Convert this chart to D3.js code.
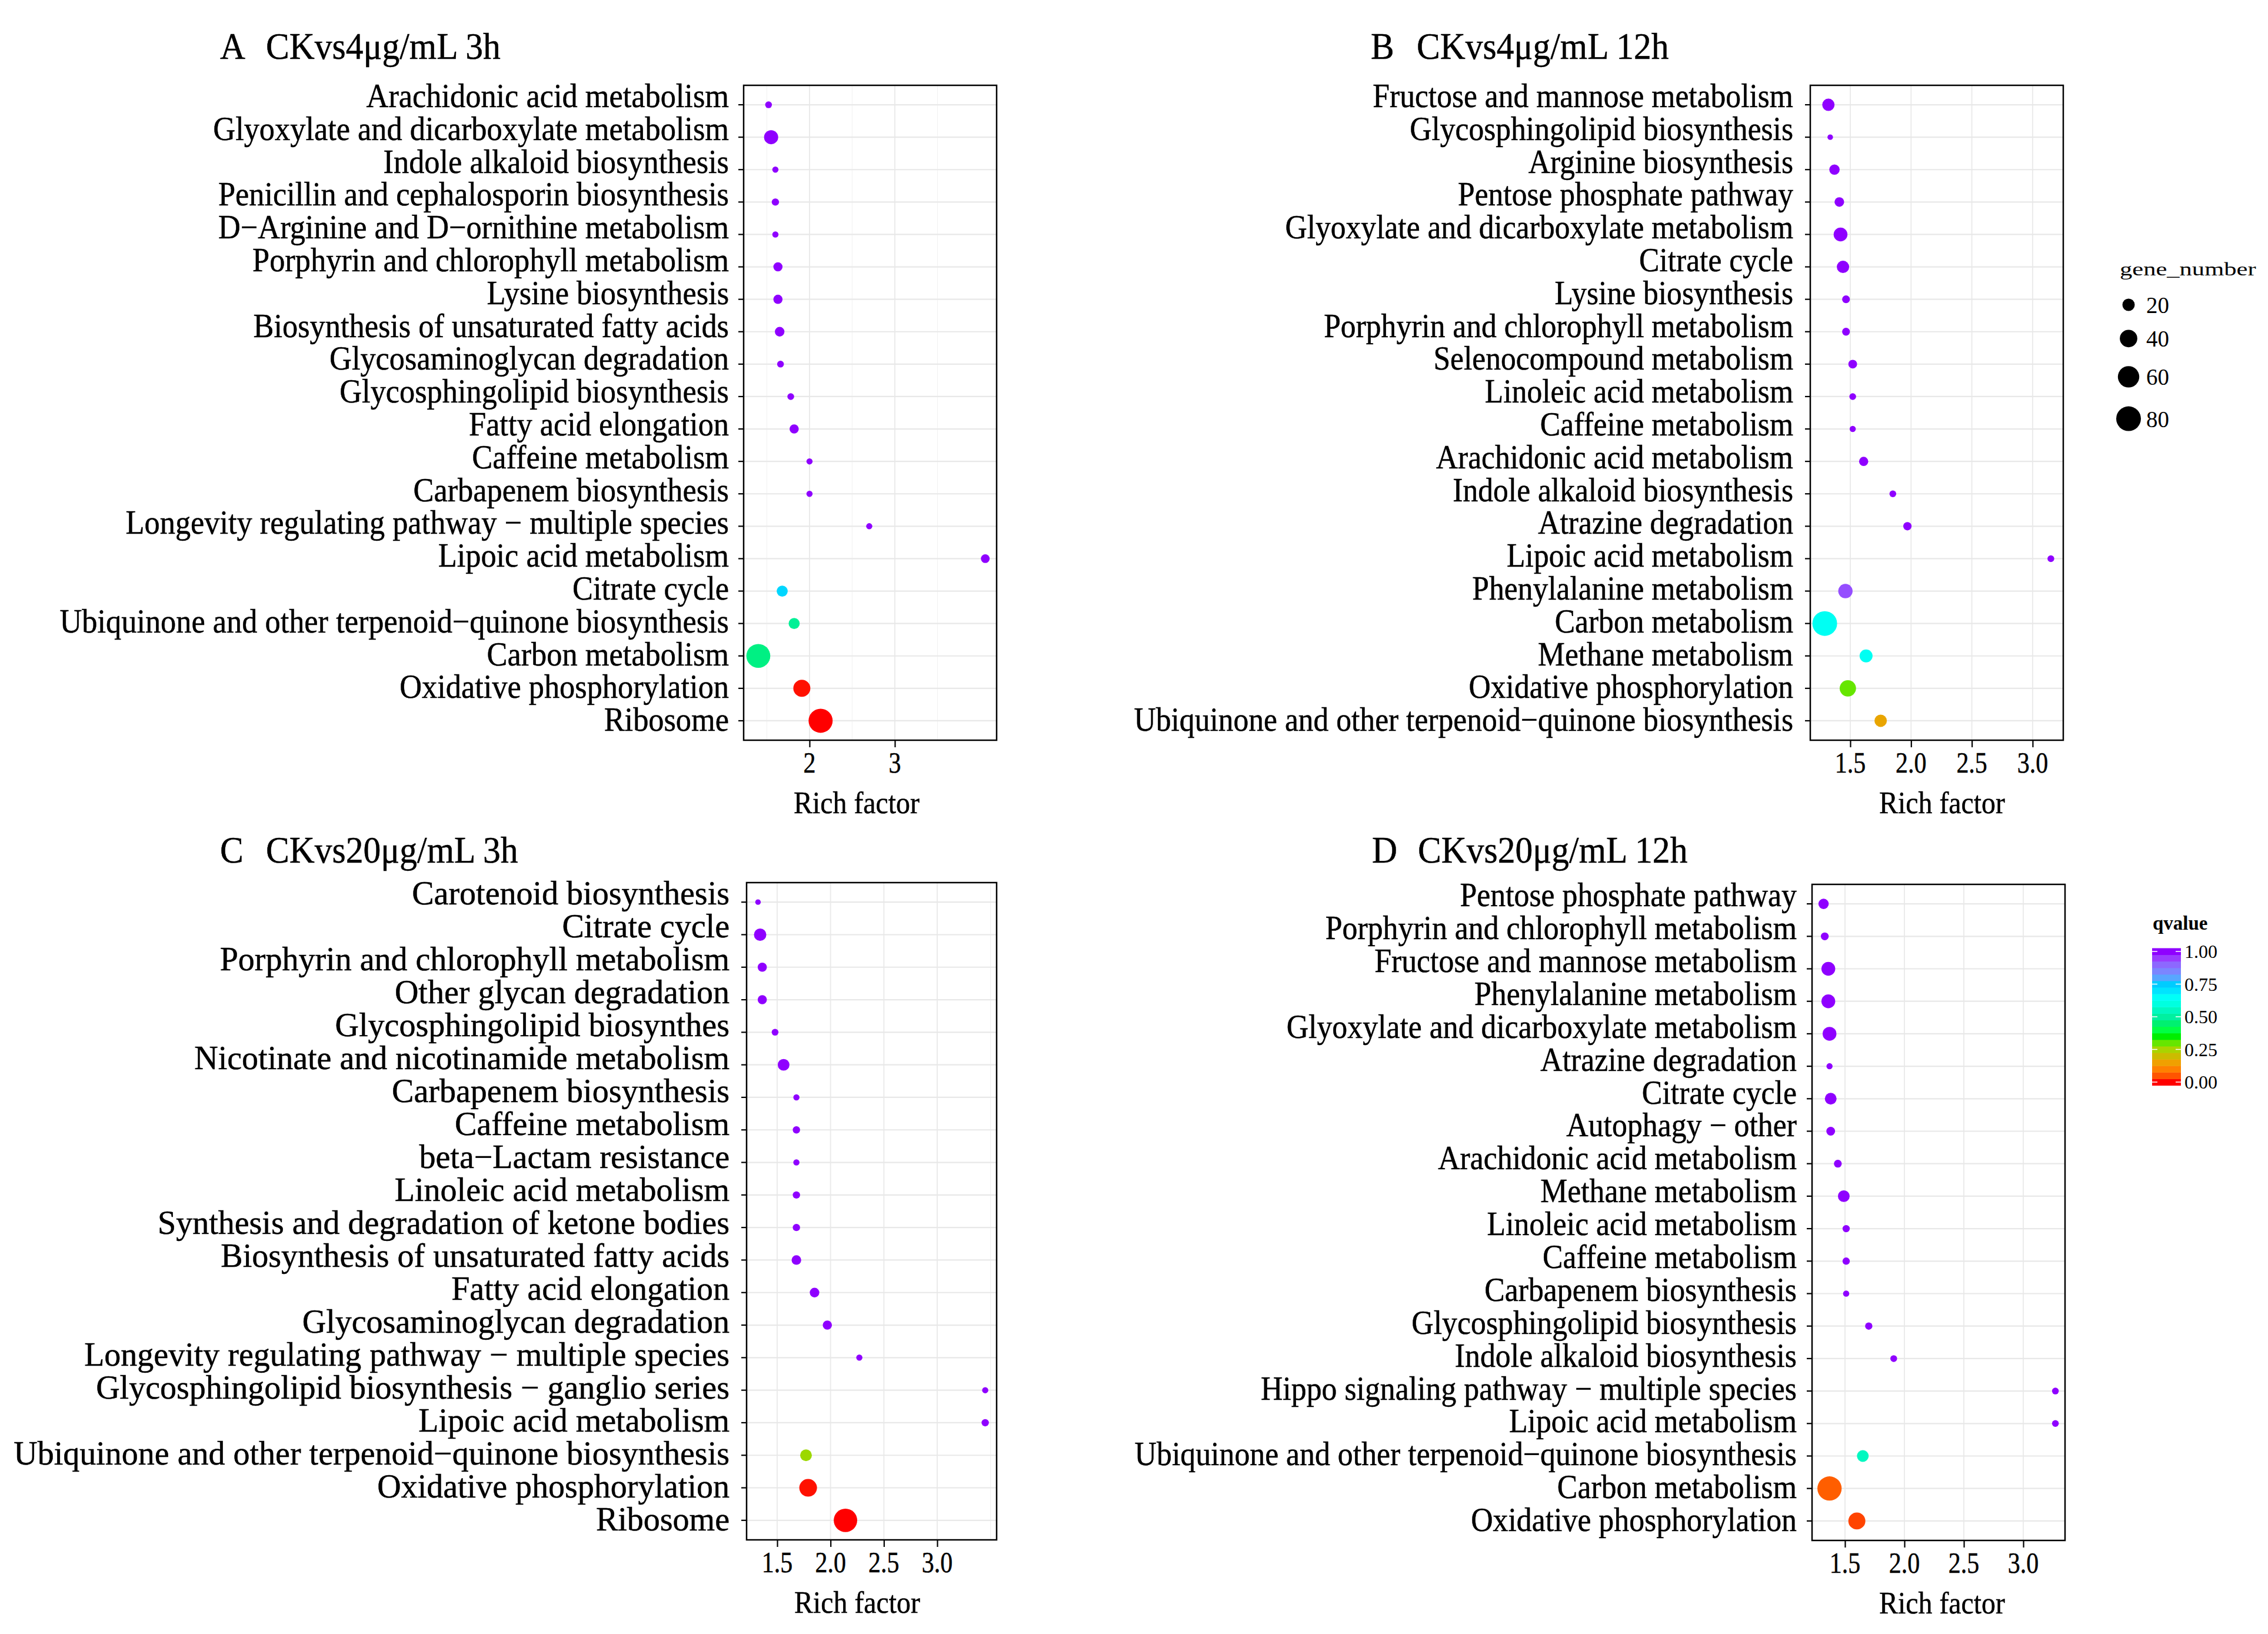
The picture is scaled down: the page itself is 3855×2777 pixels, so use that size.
<!DOCTYPE html>
<html>
<head>
<meta charset="utf-8">
<script src="https://cdn.jsdelivr.net/npm/d3@7"></script>
<style>
  body { margin: 0; background: #fff; }
  text { font-family: "Liberation Serif", "Times New Roman", serif; fill: #000; }
</style>
</head>
<body>
<svg id="chart" width="3855" height="2777"></svg>
<script>
// --- data (top row of each panel first) ---

// A  CKvs4μg/mL 3h
const pathwaysA = ["Arachidonic acid metabolism", "Glyoxylate and dicarboxylate metabolism", "Indole alkaloid biosynthesis",
  "Penicillin and cephalosporin biosynthesis", "D−Arginine and D−ornithine metabolism", "Porphyrin and chlorophyll metabolism",
  "Lysine biosynthesis", "Biosynthesis of unsaturated fatty acids", "Glycosaminoglycan degradation", "Glycosphingolipid biosynthesis",
  "Fatty acid elongation", "Caffeine metabolism", "Carbapenem biosynthesis", "Longevity regulating pathway − multiple species",
  "Lipoic acid metabolism", "Citrate cycle", "Ubiquinone and other terpenoid−quinone biosynthesis", "Carbon metabolism",
  "Oxidative phosphorylation", "Ribosome"];
const richA = [1.52, 1.55, 1.60, 1.60, 1.60, 1.63, 1.63, 1.65, 1.66, 1.78, 1.82, 2.00, 2.00, 2.70, 4.06, 1.68, 1.82, 1.40, 1.91, 2.13];
const genesA = [6, 26, 5, 7, 5, 11, 11, 12, 6, 6, 11, 5, 5, 5, 10, 16, 16, 75, 38, 76];
const qvalueA = [1, 1, 1, 1, 1, 1, 1, 1, 1, 1, 1, 1, 1, 1, 1, 0.73, 0.49, 0.47, 0.01, 0];

// B  CKvs4μg/mL 12h
const pathwaysB = ["Fructose and mannose metabolism", "Glycosphingolipid biosynthesis", "Arginine biosynthesis",
  "Pentose phosphate pathway", "Glyoxylate and dicarboxylate metabolism", "Citrate cycle", "Lysine biosynthesis",
  "Porphyrin and chlorophyll metabolism", "Selenocompound metabolism", "Linoleic acid metabolism", "Caffeine metabolism",
  "Arachidonic acid metabolism", "Indole alkaloid biosynthesis", "Atrazine degradation", "Lipoic acid metabolism",
  "Phenylalanine metabolism", "Carbon metabolism", "Methane metabolism", "Oxidative phosphorylation",
  "Ubiquinone and other terpenoid−quinone biosynthesis"];
const richB = [1.32, 1.335, 1.37, 1.41, 1.42, 1.44, 1.465, 1.465, 1.52, 1.52, 1.52, 1.61, 1.85, 1.97, 3.15, 1.46, 1.29, 1.63, 1.48, 1.75];
const genesB = [20, 4, 14, 12, 25, 20, 8, 8, 10, 6, 5, 11, 6, 9, 6, 27, 80, 22, 35, 20];
const qvalueB = [1, 1, 1, 1, 1, 1, 1, 1, 1, 1, 1, 1, 1, 1, 1, 0.93, 0.64, 0.64, 0.3, 0.16];

// C  CKvs20μg/mL 3h
const pathwaysC = ["Carotenoid biosynthesis", "Citrate cycle", "Porphyrin and chlorophyll metabolism", "Other glycan degradation",
  "Glycosphingolipid biosynthes", "Nicotinate and nicotinamide metabolism", "Carbapenem biosynthesis", "Caffeine metabolism",
  "beta−Lactam resistance", "Linoleic acid metabolism", "Synthesis and degradation of ketone bodies",
  "Biosynthesis of unsaturated fatty acids", "Fatty acid elongation", "Glycosaminoglycan degradation",
  "Longevity regulating pathway − multiple species", "Glycosphingolipid biosynthesis − ganglio series", "Lipoic acid metabolism",
  "Ubiquinone and other terpenoid−quinone biosynthesis", "Oxidative phosphorylation", "Ribosome"];
const richC = [1.32, 1.34, 1.36, 1.36, 1.48, 1.56, 1.68, 1.68, 1.68, 1.68, 1.68, 1.68, 1.85, 1.97, 2.27, 3.45, 3.45, 1.77, 1.79, 2.14];
const genesC = [4, 20, 11, 11, 6, 18, 5, 7, 5, 7, 7, 12, 12, 11, 5, 5, 7, 18, 41, 72];
const qvalueC = [1, 1, 1, 1, 1, 1, 1, 1, 1, 1, 1, 1, 1, 1, 1, 1, 1, 0.26, 0.01, 0];

// D  CKvs20μg/mL 12h
const pathwaysD = ["Pentose phosphate pathway", "Porphyrin and chlorophyll metabolism", "Fructose and mannose metabolism",
  "Phenylalanine metabolism", "Glyoxylate and dicarboxylate metabolism", "Atrazine degradation", "Citrate cycle",
  "Autophagy − other", "Arachidonic acid metabolism", "Methane metabolism", "Linoleic acid metabolism", "Caffeine metabolism",
  "Carbapenem biosynthesis", "Glycosphingolipid biosynthesis", "Indole alkaloid biosynthesis",
  "Hippo signaling pathway − multiple species", "Lipoic acid metabolism", "Ubiquinone and other terpenoid−quinone biosynthesis",
  "Carbon metabolism", "Oxidative phosphorylation"];
const richD = [1.32, 1.33, 1.36, 1.36, 1.37, 1.37, 1.38, 1.38, 1.44, 1.49, 1.51, 1.51, 1.51, 1.70, 1.91, 3.27, 3.27, 1.65, 1.37, 1.60];
const genesD = [14, 8, 25, 25, 25, 5, 18, 10, 8, 18, 7, 7, 5, 7, 6, 6, 6, 18, 77, 38];
const qvalueD = [1, 1, 1, 1, 1, 1, 1, 1, 1, 1, 1, 1, 1, 1, 1, 1, 1, 0.55, 0.06, 0.04];

const ticksA = [2, 3];
const ticksBCD = [1.5, 2.0, 2.5, 3.0];
const legendGenes = [20, 40, 60, 80];
const qvalueTicks = [0, 0.25, 0.5, 0.75, 1];

// colour bar of the figure, sampled every 0.05
const qvalueStops = d3.range(0, 1.0001, 0.05);
const qvalueColours = ["#ff0000", "#ff5500", "#ff8000", "#f0a000", "#ccbb00", "#aad400", "#66e600", "#00ee00",
  "#00ff44", "#00f070", "#00f0a0", "#00f8c0", "#00ffe0", "#00fff8", "#00e4ff", "#00ccff", "#58a6ff", "#7b86ff",
  "#8d68ff", "#9a3cff", "#8f00ff"];

// --- scales shared by all panels ---
const qColour = d3.scaleLinear().domain(qvalueStops).range(qvalueColours).interpolate(d3.interpolateRgb);
const radius = d3.scaleSqrt().domain([0, 80]).range([0, 21]);

const panels = [
  { letter: "A", title: "CKvs4μg/mL 3h", cats: pathwaysA, rich: richA, genes: genesA, q: qvalueA,
    ticks: ticksA, fmt: d3.format("d"), domain: [1.228, 4.193],
    box: { left: 1264, right: 1694, top: 145, bottom: 1258 }, labelX: 1239, labelSx: 0.935,
    titleX: 374, titleY: 100, axisTitleX: 1456 },
  { letter: "B", title: "CKvs4μg/mL 12h", cats: pathwaysB, rich: richB, genes: genesB, q: qvalueB,
    ticks: ticksBCD, fmt: d3.format(".1f"), domain: [1.171, 3.252],
    box: { left: 3077, right: 3507, top: 145, bottom: 1258 }, labelX: 3048, labelSx: 0.921,
    titleX: 2330, titleY: 100, axisTitleX: 3301 },
  { letter: "C", title: "CKvs20μg/mL 3h", cats: pathwaysC, rich: richC, genes: genesC, q: qvalueC,
    ticks: ticksBCD, fmt: d3.format(".1f"), domain: [1.213, 3.557],
    box: { left: 1269, right: 1694, top: 1500, bottom: 2617 }, labelX: 1240, labelSx: 1.0,
    titleX: 374, titleY: 1466, axisTitleX: 1457 },
  { letter: "D", title: "CKvs20μg/mL 12h", cats: pathwaysD, rich: richD, genes: genesD, q: qvalueD,
    ticks: ticksBCD, fmt: d3.format(".1f"), domain: [1.223, 3.351],
    box: { left: 3080, right: 3510, top: 1503, bottom: 2618 }, labelX: 3054, labelSx: 0.925,
    titleX: 2332, titleY: 1466, axisTitleX: 3301 }
];

const svg = d3.select("#chart");
svg.append("rect").attr("width", 3855).attr("height", 2777).attr("fill", "#fff");

// text in the figure is a little narrower than plain Times, so squeeze horizontally
function addText(g, x, y, s, o) {
  return g.append("text")
    .attr("transform", `translate(${x},${y}) scale(${o.sx || 1},1)`)
    .attr("text-anchor", o.anchor || "start")
    .attr("font-size", o.size)
    .attr("font-weight", o.weight || null)
    .attr("stroke", o.stroke ? "#000" : null)
    .attr("stroke-width", o.stroke || null)
    .text(s);
}

function drawPanel(p) {
  const g = svg.append("g");
  const b = p.box;
  const x = d3.scaleLinear().domain(p.domain).range([b.left, b.right]);
  const y = d3.scalePoint().domain(p.cats).range([b.top, b.bottom]).padding(0.6);
  const rows = p.cats.map((c, i) => ({ c, i, rich: p.rich[i], genes: p.genes[i], q: p.q[i] }));

  // grid
  const minor = p.ticks.map(t => t - 0.5).concat(p.ticks.map(t => t + 0.5))
    .filter(v => v > p.domain[0] && v < p.domain[1] && !p.ticks.includes(v));
  g.append("g").selectAll("line").data(minor).join("line")
    .attr("x1", d => x(d)).attr("x2", d => x(d)).attr("y1", b.top).attr("y2", b.bottom)
    .attr("stroke", "#f3f3f3").attr("stroke-width", 1.2);
  g.append("g").selectAll("line").data(p.ticks).join("line")
    .attr("x1", d => x(d)).attr("x2", d => x(d)).attr("y1", b.top).attr("y2", b.bottom)
    .attr("stroke", "#ebebeb").attr("stroke-width", 2);
  g.append("g").selectAll("line").data(p.cats).join("line")
    .attr("x1", b.left).attr("x2", b.right).attr("y1", d => y(d)).attr("y2", d => y(d))
    .attr("stroke", "#e8e8e8").attr("stroke-width", 2.2);

  // points
  g.append("g").selectAll("circle").data(rows).join("circle")
    .attr("cx", d => x(d.rich)).attr("cy", d => y(d.c))
    .attr("r", d => radius(d.genes))
    .attr("fill", d => qColour(d.q));

  // border
  g.append("rect").attr("x", b.left).attr("y", b.top)
    .attr("width", b.right - b.left).attr("height", b.bottom - b.top)
    .attr("fill", "none").attr("stroke", "#000").attr("stroke-width", 2.5);

  // y axis: ticks + pathway names
  g.append("g").selectAll("line").data(p.cats).join("line")
    .attr("x1", b.left - 9).attr("x2", b.left).attr("y1", d => y(d)).attr("y2", d => y(d))
    .attr("stroke", "#000").attr("stroke-width", 2.2);
  rows.forEach(d => addText(g, p.labelX, y(d.c) + 4 + 0.7 * d.i, d.c,
    { size: 56, sx: p.labelSx, anchor: "end", stroke: 0.5 }));

  // x axis
  const axisG = g.append("g").attr("transform", `translate(0,${b.bottom})`)
    .call(d3.axisBottom(x).tickValues(p.ticks).tickSize(12).tickFormat(""));
  axisG.select(".domain").remove();
  axisG.selectAll(".tick line").attr("stroke", "#000").attr("stroke-width", 2.2);
  p.ticks.forEach(t => addText(g, x(t), b.bottom + 55, p.fmt(t), { size: 50, sx: 0.84, anchor: "middle", stroke: 0.5 }));
  addText(g, p.axisTitleX, b.bottom + 124, "Rich factor", { size: 52, sx: 0.92, anchor: "middle", stroke: 0.5 });

  // title
  addText(g, p.titleX, p.titleY, p.letter, { size: 63, sx: 0.946, stroke: 0.5 });
  addText(g, p.titleX + 78, p.titleY, p.title, { size: 63, sx: 0.946, stroke: 0.5 });
}

panels.forEach(drawPanel);

// --- gene_number legend ---
const sizeLeg = svg.append("g");
addText(sizeLeg, 3603, 468, "gene_number", { size: 32, sx: 1.33 });
let keyY = 518;
legendGenes.forEach((n, i) => {
  const r = radius(n);
  if (i > 0) keyY += r + 32;
  sizeLeg.append("circle").attr("cx", 3618).attr("cy", keyY).attr("r", r).attr("fill", "#000");
  addText(sizeLeg, 3648, keyY + 14, String(n), { size: 41, sx: 0.95 });
  keyY += r;
});

// --- qvalue colour bar ---
const qLeg = svg.append("g");
const qy = d3.scaleLinear().domain([0, 1]).range([1839, 1617]);
const barX = 3658, barW = 49, stripH = (qy(0) - qy(1)) / 20;
addText(qLeg, 3659, 1580, "qvalue", { size: 33, weight: "bold" });
qLeg.selectAll("rect").data(qvalueStops).join("rect")
  .attr("x", barX).attr("width", barW)
  .attr("y", d => qy(d) - stripH / 2).attr("height", stripH + 0.5)
  .attr("fill", d => qColour(d));
qvalueTicks.forEach(t => {
  qLeg.append("line").attr("x1", barX).attr("x2", barX + 9).attr("y1", qy(t)).attr("y2", qy(t))
    .attr("stroke", "#fff").attr("stroke-width", 1.5);
  qLeg.append("line").attr("x1", barX + barW - 9).attr("x2", barX + barW).attr("y1", qy(t)).attr("y2", qy(t))
    .attr("stroke", "#fff").attr("stroke-width", 1.5);
  addText(qLeg, 3713, qy(t) + 11, d3.format(".2f")(t), { size: 32 });
});
</script>
</body>
</html>
